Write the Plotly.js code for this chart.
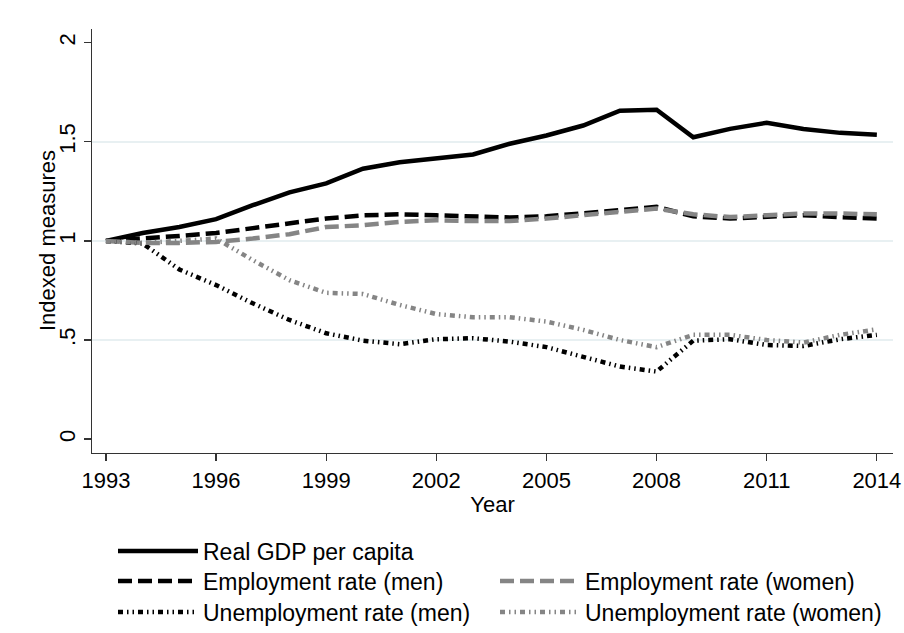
<!DOCTYPE html>
<html>
<head>
<meta charset="utf-8">
<script src="https://cdn.plot.ly/plotly-3.0.1.min.js"></script>
<style>html,body{margin:0;padding:0;background:#fff;}#chart{width:904px;height:633px;}</style>
</head>
<body>
<div id="chart"></div>
<script>
const years = [1993,1994,1995,1996,1997,1998,1999,2000,2001,2002,2003,2004,2005,2006,2007,2008,2009,2010,2011,2012,2013,2014];
const gdpPerCapita   = [1.00,1.04,1.07,1.11,1.18,1.245,1.29,1.364,1.397,1.414,1.436,1.49,1.532,1.582,1.657,1.662,1.523,1.565,1.596,1.565,1.545,1.535];
const empMen         = [1.00,1.01,1.025,1.04,1.065,1.09,1.113,1.129,1.134,1.129,1.121,1.118,1.124,1.138,1.155,1.172,1.124,1.113,1.124,1.13,1.12,1.113];
const empWomen       = [1.00,0.99,0.99,0.995,1.012,1.034,1.07,1.079,1.096,1.104,1.10,1.10,1.113,1.128,1.146,1.163,1.134,1.12,1.13,1.138,1.138,1.134];
const unempMen       = [1.00,0.987,0.856,0.777,0.685,0.601,0.534,0.497,0.479,0.504,0.509,0.492,0.464,0.416,0.366,0.341,0.497,0.504,0.475,0.47,0.504,0.526];
const unempWomen     = [1.00,0.99,1.00,1.012,0.903,0.802,0.738,0.732,0.677,0.631,0.615,0.615,0.593,0.551,0.50,0.464,0.526,0.526,0.50,0.487,0.526,0.554];
const xTicks = [1993,1996,1999,2002,2005,2008,2011,2014];
const yTickVals = [0,0.5,1,1.5,2];
const yTickText = ['0','.5','1','1.5','2'];
const gridVals = [0.5,1,1.5];
const names = ['Real GDP per capita','Employment rate (men)','Employment rate (women)','Unemployment rate (men)','Unemployment rate (women)'];
const yTitle = 'Indexed measures';

const BLACK = '#000000', GRAY = '#858585';
const dashEmp = '14px,6px';
const dashUnemp = '5px,4px,1.5px,4px,1.5px,4px';

const traces = [
  {x: years, y: gdpPerCapita, name: names[0], line:{color:BLACK,width:4.5}, legend:'legend'},
  {x: years, y: empMen, name: names[1], line:{color:BLACK,width:4.5,dash:dashEmp}, legend:'legend2'},
  {x: years, y: empWomen, name: names[2], line:{color:GRAY,width:4.5,dash:dashEmp}, legend:'legend3'},
  {x: years, y: unempMen, name: names[3], line:{color:BLACK,width:4.5,dash:dashUnemp}, legend:'legend4'},
  {x: years, y: unempWomen, name: names[4], line:{color:GRAY,width:4.5,dash:dashUnemp}, legend:'legend5'}
].map(t => Object.assign({type:'scatter', mode:'lines'}, t));

const FONT = 'Liberation Sans, Arial, sans-serif';
function leg(x, y){
  return {xref:'container', yref:'container', x:x, y:y, xanchor:'left', yanchor:'middle',
    bgcolor:'rgba(0,0,0,0)', borderwidth:0, itemwidth:80,
    font:{family:FONT, size:23, color:'#000'}};
}
const textCol1 = 203, textCol2 = 585;
const off = 90;
const layout = {
  width:904, height:633,
  paper_bgcolor:'#ffffff', plot_bgcolor:'#ffffff',
  margin:{l:92, r:11, t:29, b:180, autoexpand:false},
  font:{family:FONT, size:22, color:'#000'},
  showlegend:true,
  xaxis:{range:[1992.62,2014.44], tickvals:xTicks, ticks:'outside', ticklen:7, tickwidth:1.3, tickcolor:'#333',
    showline:true, linecolor:'#333', linewidth:1.3, showgrid:false, zeroline:false, automargin:true,
    tickfont:{size:22}, title:{text:'Year', font:{size:22}, standoff:5}},
  yaxis:{range:[-0.07,2.069], tickvals:yTickVals, ticktext:yTickText, tickangle:-90, ticks:'outside', ticklen:7, tickwidth:1.3, tickcolor:'#333',
    showline:true, linecolor:'#333', linewidth:1.3, showgrid:false, zeroline:false, automargin:false,
    minor:{tickvals:gridVals, showgrid:true, gridcolor:'#e8f0f2', gridwidth:1.5, ticks:''},
    tickfont:{size:22}},
  annotations:[{text:yTitle, xref:'paper', yref:'paper', x:(47-92)/801, y:0.5, xanchor:'center', yanchor:'middle',
    textangle:-90, showarrow:false, font:{family:FONT, size:22, color:'#000'}}],
  legend: leg((textCol1-off)/904, 1-551/633),
  legend2: leg((textCol1-off)/904, 1-581/633),
  legend3: leg((textCol2-off)/904, 1-581/633),
  legend4: leg((textCol1-off)/904, 1-612/633),
  legend5: leg((textCol2-off)/904, 1-612/633)
};

Plotly.newPlot('chart', traces, layout, {displayModeBar:false, staticPlot:true});
</script>
</body>
</html>
